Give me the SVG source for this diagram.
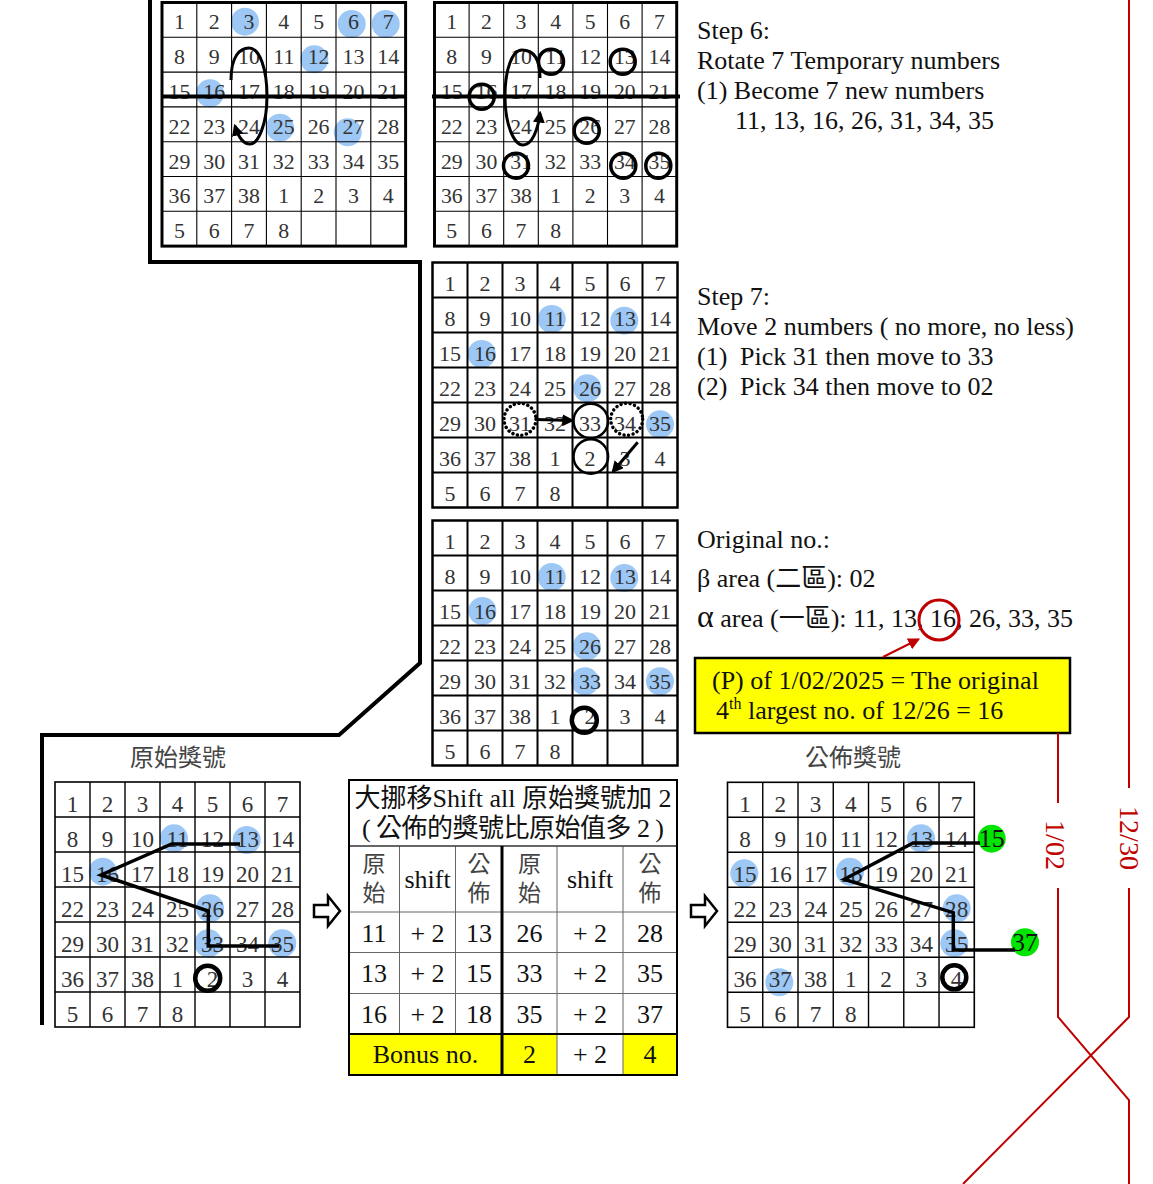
<svg xmlns="http://www.w3.org/2000/svg" xmlns:xlink="http://www.w3.org/1999/xlink" width="1153" height="1184" viewBox="0 0 1153 1184">
<style>
.num{font-family:"Liberation Serif",serif;fill:#333}
.t{font-family:"Liberation Serif","Noto Sans CJK TC",serif;font-size:26px;fill:#111}
.ttl{font-family:"Noto Sans CJK TC","Liberation Serif",sans-serif;font-size:24px;fill:#444;text-anchor:middle}
.cjkv{font-family:"Noto Sans CJK TC","Liberation Serif",sans-serif;font-size:23px;fill:#444;text-anchor:start;writing-mode:vertical-rl;letter-spacing:6px}
.tc{font-family:"Liberation Serif","Noto Sans CJK TC",serif;font-size:26px;fill:#111;text-anchor:middle}
.blue{fill:#9DC8F6}
.ring{fill:none;stroke:#000}
.green{fill:#00E400}
.red{fill:none;stroke:#C00000;stroke-width:2}
.rt{font-family:"Liberation Serif",serif;font-size:28px;fill:#C00000;text-anchor:middle}
.tl{stroke:#666;stroke-width:1;fill:none}
</style>
<defs>
<path id="gin" d="M35 0V245M70 0V245M105 0V245M140 0V245M175 0V245M210 0V245M0 35H245M0 70H245M0 105H245M0 140H245M0 175H245M0 210H245" fill="none"/>
<rect id="gout" x="0" y="0" width="245" height="245" fill="none"/>
<g id="nums" text-anchor="middle">
<text y="27.5"><tspan x="17.5">1</tspan><tspan x="52.5">2</tspan><tspan x="87.5">3</tspan><tspan x="122.5">4</tspan><tspan x="157.5">5</tspan><tspan x="192.5">6</tspan><tspan x="227.5">7</tspan></text>
<text y="62.5"><tspan x="17.5">8</tspan><tspan x="52.5">9</tspan><tspan x="87.5">10</tspan><tspan x="122.5">11</tspan><tspan x="157.5">12</tspan><tspan x="192.5">13</tspan><tspan x="227.5">14</tspan></text>
<text y="97.5"><tspan x="17.5">15</tspan><tspan x="52.5">16</tspan><tspan x="87.5">17</tspan><tspan x="122.5">18</tspan><tspan x="157.5">19</tspan><tspan x="192.5">20</tspan><tspan x="227.5">21</tspan></text>
<text y="132.5"><tspan x="17.5">22</tspan><tspan x="52.5">23</tspan><tspan x="87.5">24</tspan><tspan x="122.5">25</tspan><tspan x="157.5">26</tspan><tspan x="192.5">27</tspan><tspan x="227.5">28</tspan></text>
<text y="167.5"><tspan x="17.5">29</tspan><tspan x="52.5">30</tspan><tspan x="87.5">31</tspan><tspan x="122.5">32</tspan><tspan x="157.5">33</tspan><tspan x="192.5">34</tspan><tspan x="227.5">35</tspan></text>
<text y="202.5"><tspan x="17.5">36</tspan><tspan x="52.5">37</tspan><tspan x="87.5">38</tspan><tspan x="122.5">1</tspan><tspan x="157.5">2</tspan><tspan x="192.5">3</tspan><tspan x="227.5">4</tspan></text>
<text y="237.5"><tspan x="17.5">5</tspan><tspan x="52.5">6</tspan><tspan x="87.5">7</tspan><tspan x="122.5">8</tspan></text>
</g>
<marker id="ah" viewBox="0 0 10 10" refX="8" refY="5" markerWidth="4" markerHeight="4" orient="auto">
<path d="M0,0 L10,5 L0,10 z" fill="#000"/>
</marker>
<marker id="ahr" viewBox="0 0 10 10" refX="8" refY="5" markerWidth="6" markerHeight="6" orient="auto">
<path d="M0,0 L10,5 L0,10 z" fill="#C00000"/>
</marker>
</defs>
<rect x="0" y="0" width="1153" height="1184" fill="#fff"/>

<!-- Step 6 grid A -->
<g id="grid-step6-before">
<g class="blue">
<circle cx="245" cy="21.7" r="14"/><circle cx="351.7" cy="24" r="14"/><circle cx="385.7" cy="24" r="14"/><circle cx="314.3" cy="59.3" r="14"/><circle cx="210" cy="93.3" r="14"/><circle cx="280" cy="127.7" r="14"/><circle cx="347.7" cy="132.3" r="14"/>
</g>
<use xlink:href="#gin" transform="translate(162,2.5) scale(0.9943)" stroke="#000" stroke-width="1.1"/>
<use xlink:href="#gout" transform="translate(162,2.5) scale(0.9943)" stroke="#000" stroke-width="3"/>
<use xlink:href="#nums" class="num" font-size="22" transform="translate(162,2) scale(0.9943)"/>
<path d="M162,96.5 H406" stroke="#000" stroke-width="4"/>
<path d="M231,80 C231,56 240,48 249,48 C260,48 267,70 267,96 C267,125 258,144 250,144 C243,144 238,136 235,126" fill="none" stroke="#000" stroke-width="3" marker-end="url(#ah)"/>
</g>

<!-- Step 6 grid B -->
<g id="grid-step6-after">
<use xlink:href="#gin" transform="translate(434.5,2.5) scale(0.9886,0.9943)" stroke="#000" stroke-width="1.1"/>
<use xlink:href="#gout" transform="translate(434.5,2.5) scale(0.9886,0.9943)" stroke="#000" stroke-width="3"/>
<use xlink:href="#nums" class="num" font-size="22" transform="translate(434.5,2) scale(0.9886,0.9943)"/>
<g class="ring" stroke-width="3.5">
<circle cx="551" cy="61.7" r="12.5"/><circle cx="622.7" cy="61.7" r="12.5"/><circle cx="481.7" cy="96.7" r="12.5"/><circle cx="586.7" cy="130.7" r="12.5"/><circle cx="516" cy="165.7" r="12.5"/><circle cx="623.3" cy="165.7" r="12.5"/><circle cx="658.3" cy="165.7" r="12.5"/>
</g>
<path d="M432,96.5 H680" stroke="#000" stroke-width="4"/>
<path d="M540,78 C540,56 532,50 522,50 C512,50 505,70 505,96 C505,125 514,145 523,145 C532,145 538,130 540,113" fill="none" stroke="#000" stroke-width="3" marker-end="url(#ah)"/>
</g>

<!-- Step 7 grid -->
<g id="grid-step7">
<g class="blue">
<circle cx="551.7" cy="319" r="14"/><circle cx="624.3" cy="320.7" r="14"/><circle cx="481.7" cy="354" r="14"/><circle cx="587.3" cy="388.3" r="14"/><circle cx="660" cy="424.3" r="14"/>
</g>
<use xlink:href="#gin" transform="translate(432.5,262.5)" stroke="#000" stroke-width="2"/>
<use xlink:href="#gout" transform="translate(432.5,262.5)" stroke="#000" stroke-width="2.5"/>
<use xlink:href="#nums" class="num" font-size="22" transform="translate(432.5,263.5)"/>
<g fill="none" stroke="#000" stroke-width="3.5" stroke-dasharray="0.01 4.6" stroke-linecap="round">
<circle cx="520" cy="419.3" r="16"/><circle cx="626.7" cy="419.3" r="16"/>
</g>
<g class="ring" stroke-width="2.5">
<circle cx="590.8" cy="421" r="17.3"/><circle cx="590.8" cy="456.5" r="17.3"/>
</g>
<path d="M537,419.5 L572,420.5" stroke="#000" stroke-width="3" marker-end="url(#ah)"/>
<path d="M637.7,442.3 L613,471.5" stroke="#000" stroke-width="3" marker-end="url(#ah)"/>
</g>

<!-- Original grid -->
<g id="grid-original">
<g class="blue">
<circle cx="551.7" cy="577" r="14"/><circle cx="624.3" cy="578" r="14"/><circle cx="482.3" cy="611" r="14"/><circle cx="586.7" cy="646.3" r="14"/><circle cx="585" cy="681.3" r="14"/><circle cx="660" cy="681.3" r="14"/>
</g>
<use xlink:href="#gin" transform="translate(432.5,520.5)" stroke="#000" stroke-width="2"/>
<use xlink:href="#gout" transform="translate(432.5,520.5)" stroke="#000" stroke-width="2.5"/>
<use xlink:href="#nums" class="num" font-size="22" transform="translate(432.5,521.5)"/>
<circle class="ring" cx="584.3" cy="720.3" r="12.5" stroke-width="4.5"/>
</g>

<!-- 原始獎號 grid -->
<g id="grid-yuanshi">
<text class="ttl" x="178" y="766">原始獎號</text>
<g class="blue">
<circle cx="174" cy="838.3" r="14"/><circle cx="246.7" cy="840" r="14"/><circle cx="102.7" cy="871.7" r="14"/><circle cx="210" cy="908.3" r="14"/><circle cx="208.3" cy="943.3" r="14"/><circle cx="282.3" cy="943.3" r="14"/>
</g>
<use xlink:href="#gin" transform="translate(55,782)" stroke="#000" stroke-width="1.4"/>
<use xlink:href="#gout" transform="translate(55,782)" stroke="#000" stroke-width="1.6"/>
<use xlink:href="#nums" class="num" font-size="23" transform="translate(55,784)"/>
<circle class="ring" cx="207.7" cy="978.3" r="12.5" stroke-width="4.5"/>
<path d="M240,844 H171.7 L101,875 L208.3,911 V946 H279.3" fill="none" stroke="#000" stroke-width="3.5"/>
</g>

<!-- 公佈獎號 grid -->
<g id="grid-gongbu">
<text class="ttl" x="853" y="766">公佈獎號</text>
<g class="blue">
<circle cx="921" cy="838.3" r="14"/><circle cx="744.3" cy="873.3" r="14"/><circle cx="850" cy="871.7" r="14"/><circle cx="956.7" cy="908.3" r="14"/><circle cx="954.3" cy="943.3" r="14"/><circle cx="779.3" cy="982.3" r="14"/>
</g>
<use xlink:href="#gin" transform="translate(727.5,782.3) scale(1.0073,1)" stroke="#000" stroke-width="1.4"/>
<use xlink:href="#gout" transform="translate(727.5,782.3) scale(1.0073,1)" stroke="#000" stroke-width="1.6"/>
<use xlink:href="#nums" class="num" font-size="23" transform="translate(727.5,784.3) scale(1.0073,1)"/>
<circle class="ring" cx="954.3" cy="977.3" r="12" stroke-width="4.5"/>
<circle class="green" cx="991.7" cy="838.7" r="14"/>
<circle class="green" cx="1025" cy="942.3" r="14"/>
<path d="M980,843 H913 L844.3,879.3 L953.3,912.7 V950 H1015" fill="none" stroke="#000" stroke-width="3.5"/>
<text class="tc" x="991.7" y="847" font-size="25" fill="#000">15</text>
<text class="tc" x="1025" y="950.5" font-size="25" fill="#000">37</text>
</g>

<!-- Shift table -->
<g id="shift-table">
<rect x="349" y="1034" width="153" height="41" fill="#FFFF00"/>
<rect x="502" y="1034" width="55" height="41" fill="#FFFF00"/>
<rect x="623" y="1034" width="54" height="41" fill="#FFFF00"/>
<path class="tl" d="M349,912H677M349,952.5H677M349,993.5H677M399.5,846V1034M455.5,846V1034M557,846V1075M623,846V1075"/>
<path d="M349,846H677" stroke="#333" stroke-width="1.5"/>
<path d="M349,1034H677" stroke="#000" stroke-width="2"/>
<path d="M502,846V1075" stroke="#000" stroke-width="3"/>
<rect x="349" y="780" width="328" height="295" fill="none" stroke="#000" stroke-width="2"/>
<text class="tc" x="513" y="807" font-size="24">大挪移Shift all 原始獎號加 2</text>
<text class="tc" x="513" y="837" font-size="24" textLength="302" lengthAdjust="spacing">( 公佈的獎號比原始值多 2 )</text>
<text class="cjkv" x="374" y="852">原始</text>
<text class="tc" x="427.5" y="888">shift</text>
<text class="cjkv" x="479" y="852">公佈</text>
<text class="cjkv" x="529.5" y="852">原始</text>
<text class="tc" x="590" y="888">shift</text>
<text class="cjkv" x="650" y="852">公佈</text>
<text class="tc" y="942"><tspan x="374">11</tspan><tspan x="427.5">+ 2</tspan><tspan x="479">13</tspan><tspan x="529.5">26</tspan><tspan x="590">+ 2</tspan><tspan x="650">28</tspan></text>
<text class="tc" y="982"><tspan x="374">13</tspan><tspan x="427.5">+ 2</tspan><tspan x="479">15</tspan><tspan x="529.5">33</tspan><tspan x="590">+ 2</tspan><tspan x="650">35</tspan></text>
<text class="tc" y="1022.5"><tspan x="374">16</tspan><tspan x="427.5">+ 2</tspan><tspan x="479">18</tspan><tspan x="529.5">35</tspan><tspan x="590">+ 2</tspan><tspan x="650">37</tspan></text>
<text class="tc" y="1063"><tspan x="425.5">Bonus no.</tspan><tspan x="529.5">2</tspan><tspan x="590">+ 2</tspan><tspan x="650">4</tspan></text>
</g>

<!-- hollow arrows -->
<g id="arrow-left">
<path d="M314,905 H328 V896 L340,911 L328,926 V917 H314 Z" fill="#fff" stroke="#000" stroke-width="2.5" stroke-linejoin="miter"/>
</g>
<g id="arrow-right">
<path d="M691,905 H705 V896 L717,911 L705,926 V917 H691 Z" fill="#fff" stroke="#000" stroke-width="2.5" stroke-linejoin="miter"/>
</g>

<!-- Step texts -->
<g id="step6-text">
<text class="t" x="697" y="38.5">Step 6:</text>
<text class="t" x="697" y="68.5">Rotate 7 Temporary numbers</text>
<text class="t" x="697" y="98.5">(1) Become 7 new numbers</text>
<text class="t" x="735" y="128.5">11, 13, 16, 26, 31, 34, 35</text>
</g>
<g id="step7-text">
<text class="t" x="697" y="304.5">Step 7:</text>
<text class="t" x="697" y="334.5">Move 2 numbers ( no more, no less)</text>
<text class="t" y="364.5"><tspan x="697">(1)</tspan><tspan x="740">Pick 31 then move to 33</tspan></text>
<text class="t" y="394.5"><tspan x="697">(2)</tspan><tspan x="740">Pick 34 then move to 02</tspan></text>
</g>
<g id="original-text">
<text class="t" x="697" y="548">Original no.:</text>
<text class="t" x="697" y="587">β area (二區): 02</text>
<text class="t" x="697" y="627"><tspan font-size="32">α</tspan> area (一區): 11, 13, 16, 26, 33, 35</text>
<circle cx="939" cy="620" r="20" fill="none" stroke="#C00000" stroke-width="3"/>
</g>
<g id="p-box">
<rect x="695" y="658" width="375" height="75" fill="#FFFF00" stroke="#000" stroke-width="2.5"/>
<text class="t" x="712" y="688.5">(P) of 1/02/2025 = The original</text>
<text class="t" x="716" y="718.5">4<tspan font-size="16" dy="-10">th</tspan><tspan dy="10"> largest no. of 12/26 = 16</tspan></text>
</g>

<!-- connectors -->
<g id="connectors">
<path d="M150,0 V262 H420 V663 L339,735 H42 V1025" fill="none" stroke="#000" stroke-width="4"/>
<path d="M883,657 L918,639.5" fill="none" stroke="#C00000" stroke-width="2" marker-end="url(#ahr)"/>
<path class="red" d="M1058,733 V803 M1058,888 V1017 L1129,1100 V1184"/>
<path class="red" d="M1129,0 V788 M1129,888 V1017 L963,1184"/>
<text class="rt" transform="translate(1055,845) rotate(90)" y="9.5">1/02</text>
<text class="rt" transform="translate(1129,838) rotate(90)" y="9.5">12/30</text>
</g>
</svg>
